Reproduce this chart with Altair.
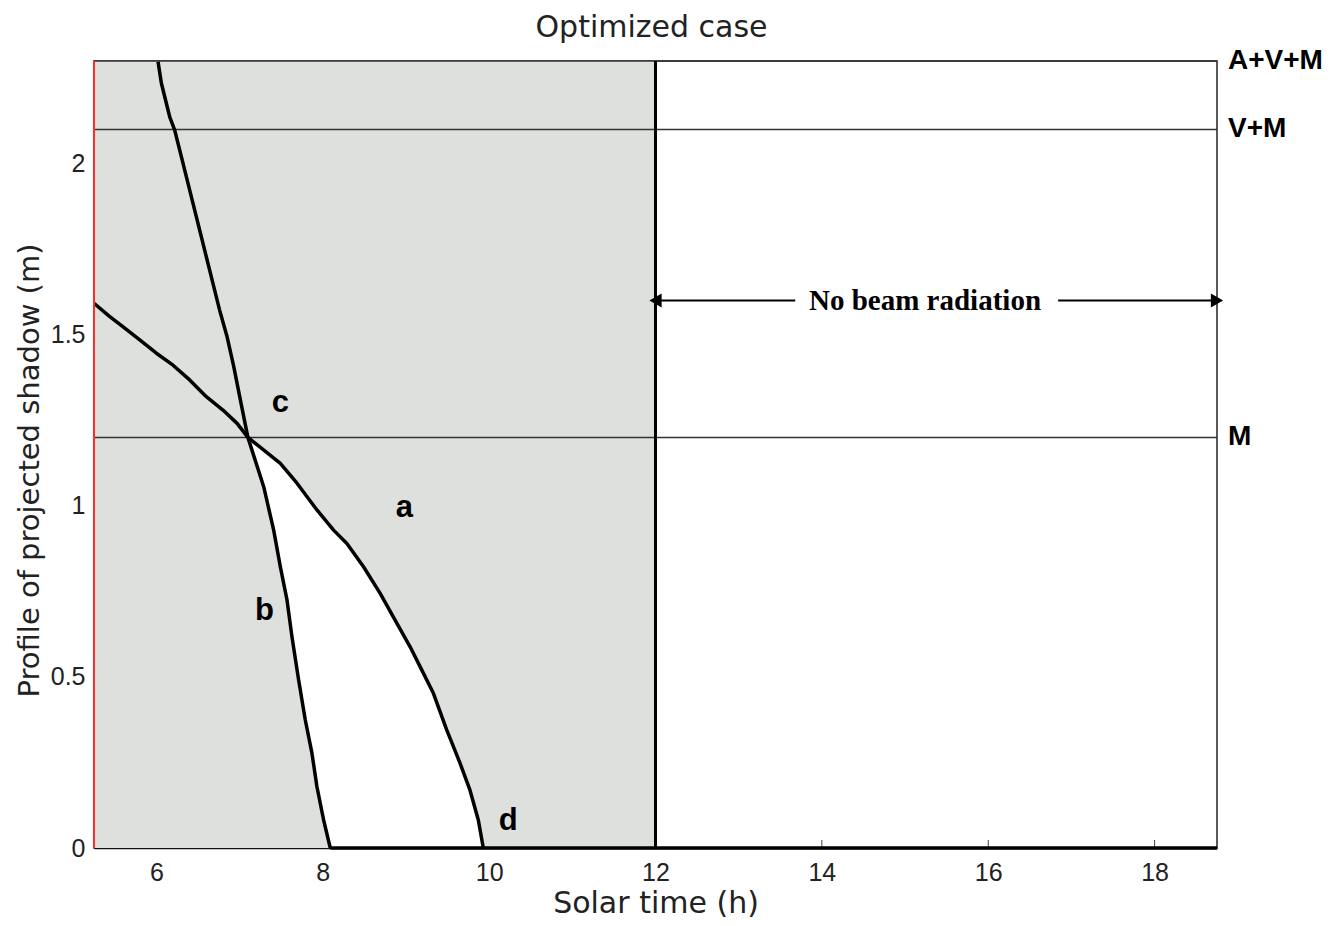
import altair as alt
import pandas as pd

# ---------------- data ----------------
title_text = "Optimized case"
x_title = "Solar time (h)"
y_title = "Profile of projected shadow (m)"

time_domain = [5.25, 18.75]
shadow_domain = [0, 2.3]
x_ticks = [6, 8, 10, 12, 14, 16, 18]
y_ticks = [0, 0.5, 1, 1.5, 2]

level_values = [2.3, 2.1, 1.2]
level_labels = ["A+V+M", "V+M", "M"]

curve_a_time = [5.25, 5.44, 5.60, 5.80, 6.00, 6.20, 6.40, 6.60, 6.80, 6.97, 7.10,
                7.49, 7.69, 7.93, 8.13, 8.29, 8.49, 8.69, 8.89, 9.05, 9.17, 9.33,
                9.49, 9.65, 9.77, 9.87, 9.93]
curve_a_shadow = [1.592, 1.553, 1.523, 1.485, 1.446, 1.411, 1.368, 1.319, 1.280, 1.241, 1.20,
                  1.124, 1.066, 0.988, 0.929, 0.890, 0.822, 0.744, 0.657, 0.588, 0.530, 0.452,
                  0.345, 0.248, 0.169, 0.082, 0.0]
curve_b_time = [6.02, 6.06, 6.16, 6.22, 6.28, 6.36, 6.44, 6.52, 6.60, 6.68, 6.76, 6.85,
                6.93, 7.01, 7.10, 7.29, 7.41, 7.49, 7.57, 7.63, 7.71, 7.79, 7.87, 7.93,
                8.01, 8.09]
curve_b_shadow = [2.298, 2.235, 2.137, 2.098, 2.040, 1.962, 1.884, 1.806, 1.728, 1.650, 1.572, 1.494,
                  1.407, 1.309, 1.20, 1.056, 0.929, 0.822, 0.725, 0.617, 0.491, 0.374, 0.277, 0.179,
                  0.082, 0.0]
ground_time = [8.09, 18.75]
ground_shadow = [0.0, 0.0]
crossing_time = 7.10
noon = 12

letter_labels = ["a", "b", "c", "d"]
letter_time = [8.98, 7.30, 7.49, 10.23]
letter_shadow = [0.967, 0.666, 1.274, 0.053]

beam_text = "No beam radiation"
beam_level = 1.6
beam_text_time = 15.24
beam_arrow_left = [12, 13.68]
beam_arrow_right = [16.84, 18.75]

# ---------------- styling ----------------
W, H = 1123, 787
GRAY = "#dde0dd"
TXT = "#222222"

xs = alt.Scale(domain=time_domain, nice=False, zero=False)
ys = alt.Scale(domain=shadow_domain, nice=False, zero=False)

xaxis = alt.Axis(values=x_ticks, ticks=False, grid=False, domain=True, domainColor="#111",
                 domainWidth=1.5, labelFont="Liberation Sans", labelFontSize=25, labelColor=TXT,
                 labelPadding=12, labelFlush=False, labelOverlap=False,
                 titleFont="DejaVu Sans", titleFontSize=30, titleFontWeight="normal",
                 titleColor=TXT, titleBaseline="alphabetic", titleY=64)
yaxis = alt.Axis(values=y_ticks, format="~g", ticks=False, grid=False, domain=False,
                 labelFont="Liberation Sans", labelFontSize=25, labelColor=TXT,
                 labelPadding=9, labelFlush=False, labelOverlap=False,
                 titleFont="DejaVu Sans", titleFontSize=29, titleFontWeight="normal",
                 titleColor=TXT, titleBaseline="alphabetic", titleX=-56, titleY=409,
                 titleAlign="center")


def X(f):
    return alt.X(f, type="quantitative", scale=xs, axis=xaxis, title=x_title)


def Y(f):
    return alt.Y(f, type="quantitative", scale=ys, axis=yaxis, title=y_title)


# ---------------- tables ----------------
ticks_df = pd.DataFrame({"t": x_ticks})
shade_df = pd.DataFrame({"t0": [time_domain[0]], "t1": [noon],
                         "v0": [shadow_domain[0]], "v1": [shadow_domain[1]]})
a_df = pd.DataFrame({"t": curve_a_time, "v": curve_a_shadow, "curve": "a"})
b_df = pd.DataFrame({"t": curve_b_time, "v": curve_b_shadow, "curve": "b"})
g_df = pd.DataFrame({"t": ground_time, "v": ground_shadow, "curve": "ground"})
white_df = a_df[a_df.t >= crossing_time].assign(z=0.0)
grayb_df = b_df[b_df.t >= crossing_time - 0.25].assign(z=0.0)
curves_df = pd.concat([a_df, b_df, g_df])
levels_df = pd.DataFrame({"v": level_values, "label": level_labels,
                          "t0": time_domain[0], "t1": time_domain[1]})
noon_df = pd.DataFrame({"t": [noon], "v0": [shadow_domain[0]], "v1": [shadow_domain[1]]})
left_df = pd.DataFrame({"t": [time_domain[0]], "v0": [shadow_domain[0]], "v1": [shadow_domain[1]]})
letters_df = pd.DataFrame({"t": letter_time, "v": letter_shadow, "label": letter_labels})
beam_df = pd.DataFrame({"t": [beam_text_time], "v": [beam_level], "label": [beam_text]})
arrow_df = pd.DataFrame({"t0": [beam_arrow_left[0], beam_arrow_right[0]],
                         "t1": [beam_arrow_left[1], beam_arrow_right[1]],
                         "v": [beam_level, beam_level]})
head_l_df = pd.DataFrame({"t": [beam_arrow_left[0]], "v": [beam_level]})
head_r_df = pd.DataFrame({"t": [beam_arrow_right[1]], "v": [beam_level]})
title_df = pd.DataFrame({"label": [title_text]})

# ---------------- layers ----------------
ticks = alt.Chart(ticks_df).mark_rule(color="#444", strokeWidth=1).encode(
    x=X("t"), y=alt.value(H), y2=alt.value(H - 8))
shade = alt.Chart(shade_df).mark_rect(color=GRAY).encode(
    x=X("t0"), x2="t1", y=Y("v0"), y2="v1")
white = alt.Chart(white_df).mark_area(color="white", opacity=1).encode(
    x=X("t"), y=Y("v"), y2="z")
grayb = alt.Chart(grayb_df).mark_area(color=GRAY, opacity=1).encode(
    x=X("t"), y=Y("v"), y2="z")
levels = alt.Chart(levels_df).mark_rule(color="#333", strokeWidth=1.5).encode(
    x=X("t0"), x2="t1", y=Y("v"))
curves = alt.Chart(curves_df).mark_line(color="black", strokeWidth=3.5,
                                        strokeJoin="round").encode(
    x=X("t"), y=Y("v"), detail="curve:N", order="t:Q")
noon_line = alt.Chart(noon_df).mark_rule(color="black", strokeWidth=3).encode(
    x=X("t"), y=Y("v0"), y2="v1")
left_line = alt.Chart(left_df).mark_rule(color="#ff2a2a", strokeWidth=2).encode(
    x=X("t"), y=Y("v0"), y2="v1")
level_text = alt.Chart(levels_df).mark_text(
    align="left", baseline="middle", dx=11, font="Liberation Sans", fontWeight="bold",
    fontSize=28, color="black").encode(x=X("t1"), y=Y("v"), text="label")
letters = alt.Chart(letters_df).mark_text(
    align="center", baseline="alphabetic", font="Liberation Sans", fontWeight="bold",
    fontSize=31, color="black").encode(x=X("t"), y=Y("v"), text="label")
beam = alt.Chart(beam_df).mark_text(
    align="center", baseline="middle", font="Liberation Serif", fontWeight="bold",
    fontSize=29, color="black").encode(x=X("t"), y=Y("v"), text="label")
arrows = alt.Chart(arrow_df).mark_rule(color="black", strokeWidth=2).encode(
    x=X("t0"), x2="t1", y=Y("v"))
head_l = alt.Chart(head_l_df).mark_point(shape="triangle-left", filled=True, size=200,
                                         color="black", opacity=1, dx=10).encode(x=X("t"), y=Y("v"))
head_r = alt.Chart(head_r_df).mark_point(shape="triangle-right", filled=True, size=200,
                                         color="black", opacity=1, dx=-10).encode(x=X("t"), y=Y("v"))
title = alt.Chart(title_df).mark_text(
    align="center", baseline="alphabetic", font="DejaVu Sans", fontSize=30,
    color=TXT).encode(x=alt.value(W / 2 - 4), y=alt.value(-24), text="label")

chart = alt.layer(
    ticks, shade, white, grayb, levels, curves, noon_line, left_line,
    level_text, letters, beam, arrows, head_l, head_r, title
).properties(
    width=W, height=H,
    autosize=alt.AutoSizeParams(type="none"),
    padding={"left": 86, "top": 53, "right": 110, "bottom": 70},
).configure_view(stroke="#222", strokeWidth=1.5)

chart.save("out.html", embed_options={"renderer": "svg", "actions": False})
